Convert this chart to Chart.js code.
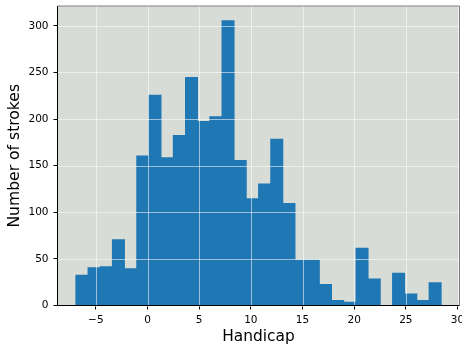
<!DOCTYPE html>
<html>
<head>
<meta charset="utf-8">
<script src="https://cdn.jsdelivr.net/npm/chart.js@4/dist/chart.umd.min.js"></script>
<style>
  html, body { margin: 0; padding: 0; background: #fff; }
  #wrap { width: 462px; height: 350px; }
</style>
</head>
<body>
<div id="wrap"><canvas id="chart"></canvas></div>
<script>
// histogram bins (bin centres) and stroke counts
const binCenters = [-6.351, -5.172, -3.994, -2.815, -1.636, -0.458, 0.721, 1.900, 3.079, 4.257,
                    5.436, 6.615, 7.793, 8.972, 10.151, 11.330, 12.508, 13.687, 14.866, 16.044,
                    17.223, 18.402, 19.580, 20.759, 21.938, 23.117, 24.295, 25.474, 26.653, 27.831];
const strokeCounts = [33, 41, 42, 71, 40, 161, 226, 159, 183, 245,
                      198, 203, 306, 156, 115, 131, 179, 110, 49, 49,
                      23, 6, 4, 62, 29, 0, 35, 13, 6, 25];
const xTicks = [-5, 0, 5, 10, 15, 20, 25, 30];
const yTicks = [0, 50, 100, 150, 200, 250, 300];

const FONT = "'DejaVu Sans', sans-serif";

// axes background, grid drawn over the bars, and the frame
const mplAxes = {
    id: 'mplAxes',
    beforeDatasetsDraw(chart) {
        const { ctx, chartArea: a } = chart;
        ctx.save();
        ctx.fillStyle = '#d8dcd6';
        ctx.fillRect(a.left, a.top, a.right - a.left, a.bottom - a.top);
        ctx.restore();
    },
    afterDatasetsDraw(chart) {
        const { ctx, chartArea: a, scales } = chart;
        ctx.save();
        ctx.strokeStyle = 'rgba(255,255,255,0.55)';
        ctx.lineWidth = 1;
        xTicks.forEach(v => {
            const x = Math.round(scales.x.getPixelForValue(v)) + 0.5;
            if (x > a.right) return;
            ctx.beginPath(); ctx.moveTo(x, a.top); ctx.lineTo(x, a.bottom); ctx.stroke();
        });
        yTicks.forEach(v => {
            const y = Math.round(scales.y.getPixelForValue(v)) + 0.5;
            ctx.beginPath(); ctx.moveTo(a.left, y); ctx.lineTo(a.right, y); ctx.stroke();
        });
        // spines
        ctx.lineWidth = 1;
        ctx.strokeStyle = '#808080';
        ctx.beginPath();
        ctx.moveTo(a.left, a.top); ctx.lineTo(a.right, a.top); ctx.lineTo(a.right, a.bottom);
        ctx.stroke();
        ctx.strokeStyle = '#000';
        ctx.beginPath();
        ctx.moveTo(a.left, a.top); ctx.lineTo(a.left, a.bottom); ctx.lineTo(a.right, a.bottom);
        ctx.stroke();
        ctx.restore();
    }
};

new Chart(document.getElementById('chart'), {
    type: 'bar',
    data: {
        datasets: [{
            data: binCenters.map((c, i) => ({ x: c, y: strokeCounts[i] })),
            backgroundColor: '#1f77b4',
            borderColor: '#1f77b4',
            borderWidth: 0,
            barPercentage: 1.07,
            categoryPercentage: 1
        }]
    },
    options: {
        responsive: true,
        maintainAspectRatio: false,
        animation: false,
        events: [],
        layout: { padding: { top: 6, right: 2.5, left: 0, bottom: 0 }, autoPadding: false },
        plugins: { legend: { display: false }, tooltip: { enabled: false } },
        scales: {
            x: {
                type: 'linear',
                offset: false,
                min: -8.71,
                max: 30.19,
                afterBuildTicks: s => { s.ticks = xTicks.map(v => ({ value: v })); },
                afterFit: s => { s.height = 44.5; s.paddingLeft = 0; s.paddingRight = 0; },
                grid: { offset: false, drawOnChartArea: false, drawTicks: true, tickLength: 4, tickColor: '#000', tickWidth: 1 },
                border: { display: false },
                ticks: {
                    color: '#000',
                    padding: 4,
                    maxRotation: 0,
                    font: { family: FONT, size: 10.5 },
                    callback: v => String(v).replace('-', '\u2212')
                },
                title: {
                    display: true,
                    text: 'Handicap',
                    color: '#000',
                    font: { family: FONT, size: 15.4 },
                    padding: { top: 0, bottom: 3.5 }
                }
            },
            y: {
                min: 0,
                max: 321.3,
                afterBuildTicks: s => { s.ticks = yTicks.map(v => ({ value: v })); },
                afterFit: s => { s.width = 57.5; s.paddingTop = 0; s.paddingBottom = 0; },
                grid: { drawOnChartArea: false, drawTicks: true, tickLength: 4, tickColor: '#000', tickWidth: 1 },
                border: { display: false },
                ticks: {
                    color: '#000',
                    padding: 5,
                    font: { family: FONT, size: 10.5 }
                },
                title: {
                    display: true,
                    text: 'Number of strokes',
                    color: '#000',
                    font: { family: FONT, size: 15.6 },
                    padding: { top: 5.5, bottom: 0 }
                }
            }
        }
    },
    plugins: [mplAxes]
});
</script>
</body>
</html>
